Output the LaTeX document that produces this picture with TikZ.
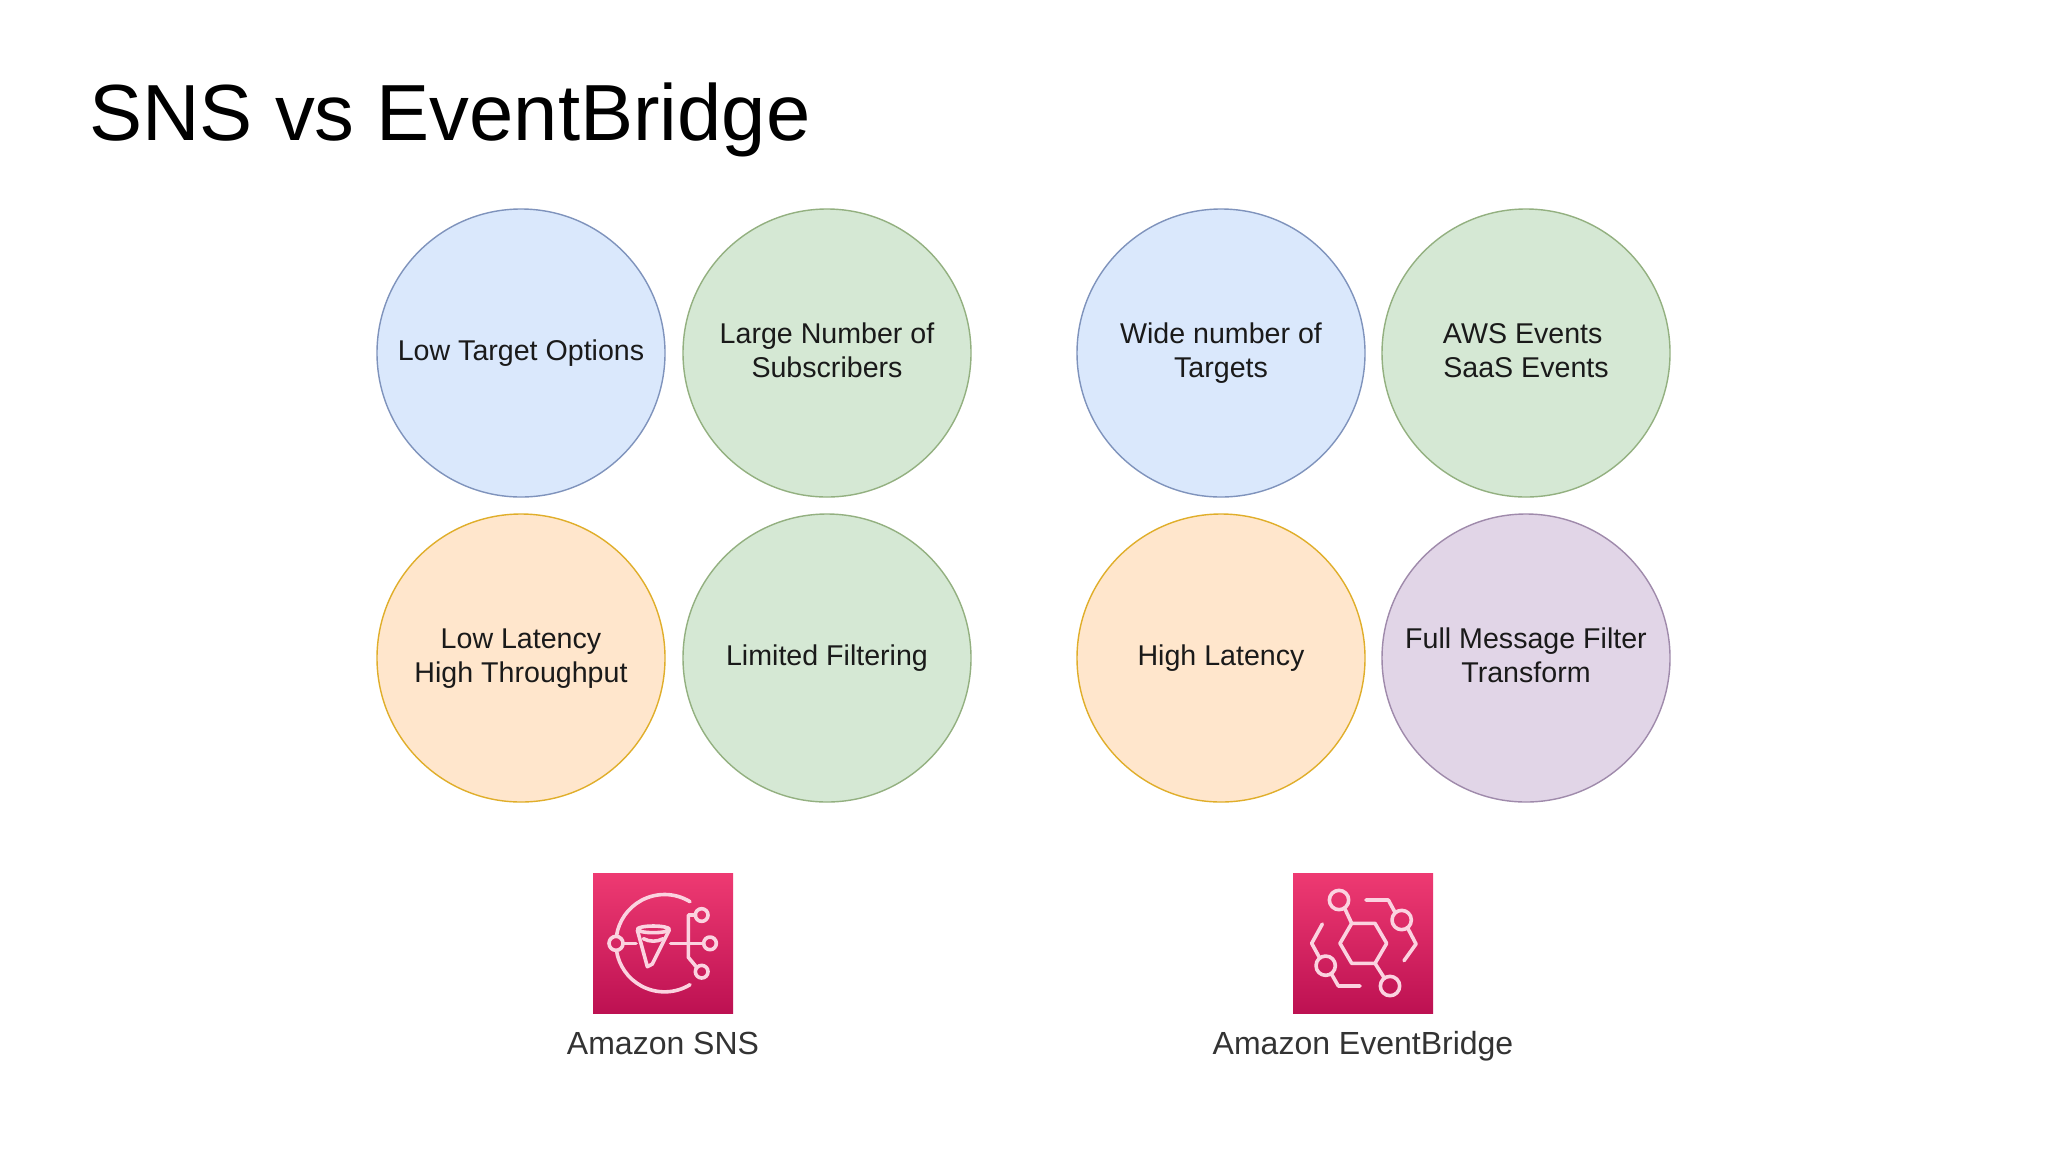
\documentclass[tikz,border=0pt]{standalone}
\usepackage{fontspec}
\setmainfont{Liberation Sans}
\definecolor{bluefill}{HTML}{DAE8FC}\definecolor{bluedraw}{HTML}{7F93BC}
\definecolor{greenfill}{HTML}{D5E8D4}\definecolor{greendraw}{HTML}{93B080}
\definecolor{orangefill}{HTML}{FFE6CC}\definecolor{orangedraw}{HTML}{E0AE2A}
\definecolor{purplefill}{HTML}{E1D5E7}\definecolor{purpledraw}{HTML}{9F8AAB}
\definecolor{icontop}{HTML}{EE3A72}\definecolor{iconbottom}{HTML}{BD1152}
\definecolor{iconline}{HTML}{FBD3E0}\definecolor{txt}{HTML}{1A1A1A}
\definecolor{labeltxt}{HTML}{333333}
\newcommand{\lst}{\rule[-3.1pt]{0pt}{13.8pt}}
\tikzset{
  bub/.style={circle,minimum size=144pt,inner sep=0pt,line width=.7pt,align=center,text=txt,
     font=\fontsize{14.3}{17}\selectfont},
  bluebub/.style={bub,fill=bluefill,draw=bluedraw},
  greenbub/.style={bub,fill=greenfill,draw=greendraw},
  orangebub/.style={bub,fill=orangefill,draw=orangedraw},
  purplebub/.style={bub,fill=purplefill,draw=purpledraw},
  iconbox/.style={rectangle,minimum size=70pt,inner sep=0pt,top color=icontop,bottom color=iconbottom},
  iconlabel/.style={text=labeltxt,font=\fontsize{16}{19}\selectfont,inner sep=0pt,anchor=base},
  glyph/.style={draw=iconline,line width=1.8pt,line join=round,line cap=round},
  glyphlocal/.style={x=.16667pt,y=-.16667pt}
}
\begin{document}
\begin{tikzpicture}[x=.5pt,y=-.5pt]
\useasboundingbox (0,0) rectangle (2048,1152);
\fill[white] (0,0) rectangle (2048,1152);
\node[anchor=west,inner sep=0pt,font=\fontsize{39.8}{48}\selectfont,text=black] (title) at (89,120) {SNS vs EventBridge};
\node[bluebub] (c1) at (521,353) {\lst Low Target Options};
\node[greenbub] (c2) at (827,353) {\lst Large Number of\\\lst Subscribers};
\node[orangebub] (c3) at (521,658) {\lst Low Latency\\\lst High Throughput};
\node[greenbub] (c4) at (827,658) {\lst Limited Filtering};
\node[bluebub] (c5) at (1221,353) {\lst Wide number of\\\lst Targets};
\node[greenbub] (c6) at (1526,353) {\hbox{\lst AWS Events\kern3.3pt}\\\lst SaaS Events};
\node[orangebub] (c7) at (1221,658) {\lst High Latency};
\node[purplebub] (c8) at (1526,658) {\lst Full Message Filter\\\lst Transform};
\node[iconbox] (snsicon) at (663,943) {};
\node[iconbox] (ebicon) at (1363,943) {};
\node[iconlabel] (snslabel) at (663,1054) {Amazon SNS};
\node[iconlabel] (eblabel) at (1363,1054) {Amazon EventBridge};
% SNS glyph
\begin{scope}[shift={(560,850)},glyphlocal]
  \draw[glyph] (390,155) arc[start angle=-58.5,end angle=-171.3,radius=146];
  \draw[glyph] (390,404) arc[start angle=58.5,end angle=171.3,radius=146];
  \draw[glyph] (168,280) circle[radius=21];
  \draw[glyph] (189,280) -- (228,280);
  \draw[glyph] (280,238) ellipse[x radius=48,y radius=10];
  \draw[glyph] (232,240) -- (262,350) -- (277,342) -- (328,240);
  \draw[glyph] (250,266) .. controls (270,276) and (290,276) .. (310,266);
  \draw[glyph] (332,280) -- (430,280);
  \draw[glyph] (450,280) circle[radius=19];
  \draw[glyph] (407,195) -- (385,195) -- (385,322) -- (410,352);
  \draw[glyph] (425,195) circle[radius=19];
  \draw[glyph] (425,365) circle[radius=19];
\end{scope}
% EventBridge glyph
\begin{scope}[shift={(1260,850)},glyphlocal]
  \draw[glyph] (240,280) -- (275,220) -- (345,220) -- (380,280) -- (345,340) -- (275,340) -- cycle;
  \draw[glyph] (237,150) circle[radius=29];
  \draw[glyph] (254,175) -- (275,220);
  \draw[glyph] (390,408) circle[radius=29];
  \draw[glyph] (345,340) -- (373,384);
  \draw[glyph] (318,150) -- (385,150) -- (405,187);
  \draw[glyph] (425,210) circle[radius=29];
  \draw[glyph] (444,236) -- (468,282) -- (432,332);
  \draw[glyph] (187,222) -- (155,280) -- (178,322);
  \draw[glyph] (197,347) circle[radius=29];
  \draw[glyph] (215,373) -- (235,408) -- (300,408);
\end{scope}
\end{tikzpicture}
\end{document}
